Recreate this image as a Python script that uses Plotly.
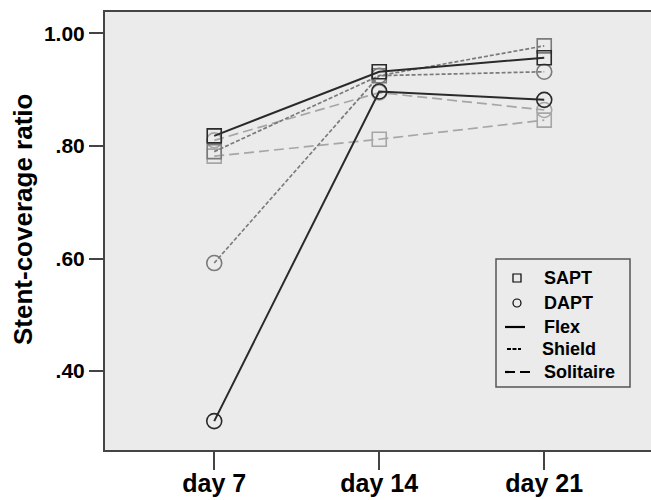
import plotly.graph_objects as go

days = ["day 7", "day 14", "day 21"]
flex_sapt = [0.818, 0.932, 0.957]
flex_dapt = [0.311, 0.897, 0.882]
shield_sapt = [0.790, 0.925, 0.978]
shield_dapt = [0.592, 0.925, 0.932]
solitaire_sapt = [0.782, 0.812, 0.846]
solitaire_dapt = [0.810, 0.895, 0.864]
y_ticks = [0.4, 0.6, 0.8, 1.0]
y_ticklabels = [".40", ".60", ".80", "1.00"]
legend_labels = ["SAPT", "DAPT", "Flex", "Shield", "Solitaire"]

FONT = "Liberation Sans, Arial, sans-serif"
c_flex = "#2a2a2a"
c_shield = "#7a7a7a"
c_sol = "#a6a6a6"

W, H = 651, 500
ML, MR, MT, MB = 105, 0, 12, 50
PW, PH = W - ML - MR, H - MT - MB


def px(xp):
    return (xp - ML) / PW


def py(yp):
    return (H - MB - yp) / PH


series = [
    (solitaire_sapt, c_sol, "10px,5px", "square-open", 14, 1.7),
    (solitaire_dapt, c_sol, "10px,5px", "circle-open", 15, 1.7),
    (shield_sapt, c_shield, "4px,2px", "square-open", 14, 1.7),
    (shield_dapt, c_shield, "4px,2px", "circle-open", 15, 1.7),
    (flex_sapt, c_flex, "solid", "square-open", 14, 2),
    (flex_dapt, c_flex, "solid", "circle-open", 15, 2),
]

fig = go.Figure()
for vals, col, dash, sym, size, lw in series:
    fig.add_trace(go.Scatter(
        x=days, y=vals, mode="lines+markers",
        line=dict(color=col, width=lw, dash=dash),
        marker=dict(symbol=sym, size=size, color=col, line=dict(width=1.6, color=col)),
        showlegend=False, hoverinfo="skip",
    ))

# manual legend (box, symbols, labels)
shapes = [dict(type="rect", xref="paper", yref="paper",
               x0=px(496), x1=px(630), y0=py(387), y1=py(259),
               line=dict(color="#555555", width=1.5), fillcolor="rgba(0,0,0,0)")]
rows = [278, 303, 327, 349, 372]
shapes.append(dict(type="rect", xref="paper", yref="paper",
                   x0=px(513), x1=px(521), y0=py(rows[0] + 4), y1=py(rows[0] - 4),
                   line=dict(color="black", width=1.2)))
shapes.append(dict(type="circle", xref="paper", yref="paper",
                   x0=px(513), x1=px(521), y0=py(rows[1] + 4), y1=py(rows[1] - 4),
                   line=dict(color="black", width=1.2)))
shapes.append(dict(type="line", xref="paper", yref="paper",
                   x0=px(505), x1=px(525), y0=py(rows[2]), y1=py(rows[2]),
                   line=dict(color="black", width=2.2)))
shapes.append(dict(type="line", xref="paper", yref="paper",
                   x0=px(507), x1=px(521), y0=py(rows[3]), y1=py(rows[3]),
                   line=dict(color="black", width=2.2, dash="4px,1.5px")))
shapes.append(dict(type="line", xref="paper", yref="paper",
                   x0=px(505), x1=px(531), y0=py(rows[4]), y1=py(rows[4]),
                   line=dict(color="black", width=2.2, dash="10px,5px")))

text_x = [542, 542, 542, 540, 542]
annotations = [
    dict(text=lab, xref="paper", yref="paper", x=px(tx), y=py(ry),
         xanchor="left", yanchor="middle", showarrow=False,
         font=dict(family=FONT, size=18, color="black", weight="bold"))
    for lab, tx, ry in zip(legend_labels, text_x, rows)
]
annotations.append(dict(
    text="Stent-coverage ratio", xref="paper", yref="paper",
    x=px(23), y=py(220), xanchor="center", yanchor="middle", textangle=-90,
    showarrow=False, font=dict(family=FONT, size=26, color="black", weight="bold")))

fig.update_layout(
    width=W, height=H,
    margin=dict(l=ML, r=MR, t=MT, b=MB, autoexpand=False),
    paper_bgcolor="white",
    plot_bgcolor="#ebebeb",
    font=dict(family=FONT, color="black"),
    showlegend=False,
    shapes=shapes,
    annotations=annotations,
    xaxis=dict(
        type="category", range=[-0.662, 2.647], automargin=False,
        showline=True, linecolor="#444444", linewidth=2, mirror=True,
        ticks="outside", ticklen=18, tickwidth=1.5, tickcolor="#444444",
        ticklabelstandoff=-8,
        showgrid=False, zeroline=False,
        tickfont=dict(family=FONT, size=25, color="black", weight="bold"),
    ),
    yaxis=dict(
        range=[0.2596, 1.0382], automargin=False,
        tickvals=y_ticks, ticktext=y_ticklabels,
        showline=True, linecolor="#444444", linewidth=2, mirror=False,
        ticks="outside", ticklen=14, tickwidth=1.5, tickcolor="#444444",
        showgrid=False, zeroline=False,
        tickfont=dict(family=FONT, size=21, color="black", weight="bold"),
    ),
)

fig.write_html("out.html", config={"displayModeBar": False},
               post_script="document.body.style.margin='0px';document.body.style.overflow='hidden';")
